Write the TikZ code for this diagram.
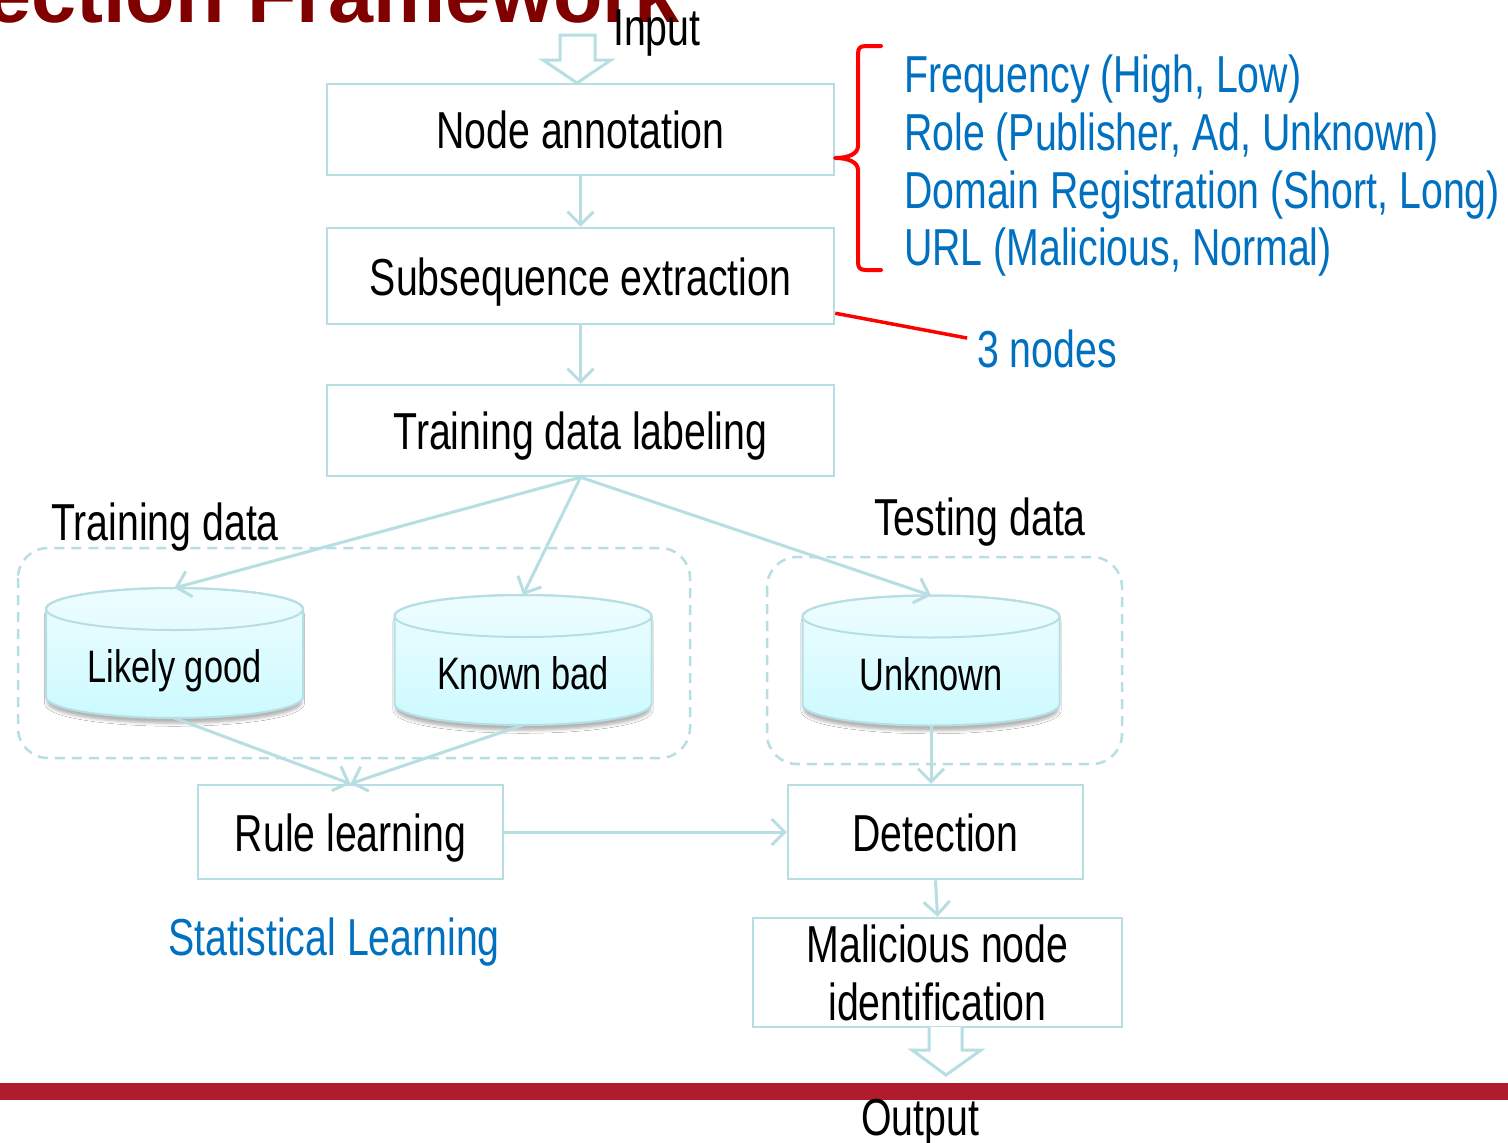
\documentclass[tikz,border=0pt]{standalone}
\usepackage{fontspec}
\setmainfont{Liberation Sans}[FakeStretch=0.755]
\newfontfamily\titlefont{Liberation Sans}
\usetikzlibrary{arrows.meta,shadows.blur}
\definecolor{linec}{RGB}{183,222,226}
\definecolor{bluet}{RGB}{0,112,192}
\definecolor{titler}{RGB}{128,0,0}
\definecolor{barred}{RGB}{176,28,46}
\definecolor{cyltop}{RGB}{238,253,255}
\definecolor{cylbot}{RGB}{204,250,255}
\tikzset{
  txt/.style={font=\fontsize{52}{58}\selectfont, inner sep=0pt},
  box/.style={txt, draw=linec, line width=2.5pt, text height=38pt, text depth=0pt},
  arr/.style={draw=linec, line width=3pt, -{Straight Barb[length=13pt,width=26pt,line width=3pt]}},
  grp/.style={draw=linec, line width=2.5pt, rounded corners=30pt, dash pattern=on 10pt off 7pt},
  blockarr/.style={draw=linec, line width=3pt, fill=white, line join=miter},
  bluelbl/.style={txt, text=bluet, anchor=base west},
  cyl/.pic={
    \path[blur shadow={shadow xshift=0pt, shadow yshift=-6pt, shadow blur radius=3pt, shadow opacity=30, shadow scale=0.99}]
      (-128.5,-44) -- (-128.5,44) arc[start angle=180,end angle=0,x radius=128.5,y radius=21]
      -- (128.5,-44) arc[start angle=0,end angle=-180,x radius=128.5,y radius=21] -- cycle;
    \draw[draw=linec, line width=2pt, top color=cyltop, bottom color=cylbot]
      (-128.5,-44) -- (-128.5,44) arc[start angle=180,end angle=0,x radius=128.5,y radius=21]
      -- (128.5,-44) arc[start angle=0,end angle=-180,x radius=128.5,y radius=21] -- cycle;
    \draw[draw=linec, line width=2pt] (0,-44) ellipse[x radius=128.5, y radius=21];
    \node[inner sep=0pt, font=\fontsize{45.5}{50}\selectfont, text height=33pt, text depth=0pt] (-c) at (0,13) {#1};
    \coordinate (-n) at (0,-65);
    \coordinate (-s) at (0,65);
  }
}
\begin{document}
\begin{tikzpicture}[x=1pt,y=-1pt]
\useasboundingbox (0,0) rectangle (1508,1143);
\clip (0,0) rectangle (1508,1143);
\fill[white] (0,0) rectangle (1508,1143);

% title (cut off at top)
\node[anchor=base west, inner sep=0pt, text=titler, font=\titlefont\bfseries\fontsize{81}{81}\selectfont] (title) at (-14,23) {ection Framework};

% groups
\draw[grp] (18,548) rectangle (690,758);
\draw[grp] (767,557) rectangle (1122,764);

% boxes
\node[box, minimum width=507pt, minimum height=91pt] (na) at (580.5,129.5) {Node annotation};
\node[box, minimum width=507pt, minimum height=96pt] (se) at (580.5,276) {Subsequence extraction};
\node[box, minimum width=507pt, minimum height=91pt] (tl) at (580.5,430.5) {Training data labeling};
\node[box, minimum width=305pt, minimum height=94pt] (rl) at (350.5,832) {Rule learning};
\node[box, minimum width=295pt, minimum height=94pt] (de) at (935.5,832) {Detection};
\node[txt, draw=linec, line width=2.5pt, align=center, minimum width=369pt, minimum height=109pt] (mn) at (937.5,972.5) {Malicious node\\identification};

% cylinders
\pic (lg) at (174.5,653) {cyl={Likely good}};
\pic (kb) at (523,660) {cyl={Known bad}};
\pic (un) at (931,660.5) {cyl={Unknown}};

% labels
\node[txt, anchor=base west] (inlbl) at (613,45) {Input};
\node[txt, anchor=base] (trl) at (165,540) {Training data};
\node[txt, anchor=base] (tel) at (980,535) {Testing data};
\node[txt, anchor=base, text=bluet] (stl) at (334,955) {Statistical Learning};
\node[bluelbl] (l1) at (904,92) {Frequency (High, Low)};
\node[bluelbl] (l2) at (904,150) {Role (Publisher, Ad, Unknown)};
\node[bluelbl] (l3) at (904,208) {Domain Registration (Short, Long)};
\node[bluelbl] (l4) at (904,265) {URL (Malicious, Normal)};
\node[bluelbl] (n3) at (977,367) {3 nodes};

% input block arrow
\draw[blockarr] (560,35) -- (595,35) -- (595,60) -- (611,60) -- (577,83) -- (543,60) -- (560,60) -- cycle;

% connectors
\draw[arr] (na) -- (se);
\draw[arr] (se) -- (tl);
\draw[arr] (tl.south) -- (lg-n);
\draw[arr] (tl.south) -- (kb-n);
\draw[arr] (tl.south) -- (un-n);
\draw[arr] (lg-s) -- (rl.north);
\draw[arr] (kb-s) -- (rl.north);
\draw[arr] (rl) -- (de);
\draw[arr] (un-s) -- (de.north -| un-s);
\draw[arr] (de.south) -- (mn.north);

% red brace and line
\draw[red, line width=4pt, line cap=round, line join=round]
  (881,46) -- (866,46) .. controls (860,46) and (858,48) .. (858,54) -- (858,146)
  .. controls (858,154) and (848,158) .. (835,158)
  .. controls (848,158) and (858,162) .. (858,170) -- (858,262)
  .. controls (858,268) and (860,270) .. (866,270) -- (881,270);
\draw[red, line width=3.5pt, shorten >=10pt] ([yshift=12pt]se.south east) -- ([yshift=8.5pt]n3.west);

% bottom bar and output
\fill[barred] (0,1083) rectangle (1508,1100);
\draw[blockarr] (929,1027) -- (929,1050) -- (912,1050) -- (946,1075) -- (981,1050) -- (962,1050) -- (962,1027);
\node[txt, anchor=base] (outl) at (920,1135) {Output};
\end{tikzpicture}
\end{document}
